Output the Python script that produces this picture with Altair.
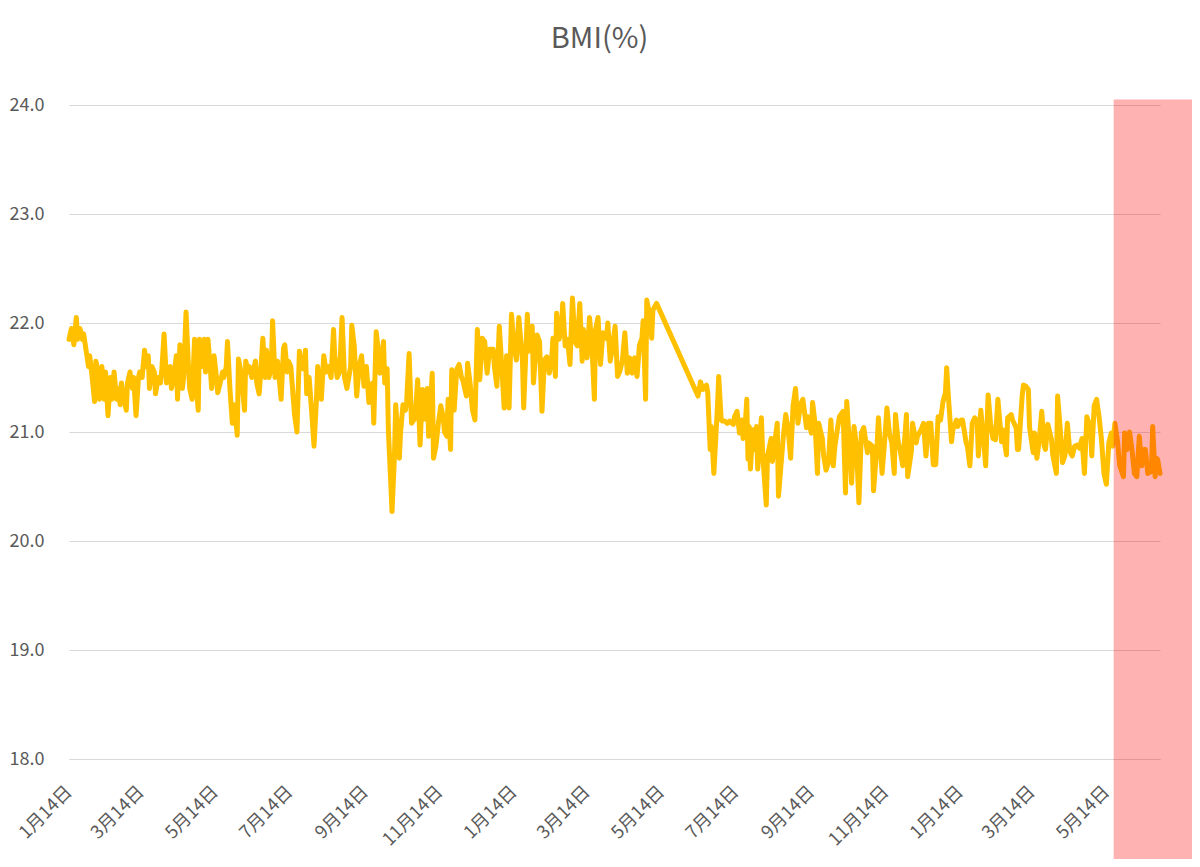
import altair as alt
import pandas as pd

START_DATE = "2019-01-14"
END_DATE = "2021-06-27"

# days since 2019-01-14
DAY_OFFSETS = [
    0, 2, 4, 6, 7, 9, 11, 12, 14, 16, 17, 19, 21, 22, 24, 25, 27, 29, 30, 32, 34, 35, 37, 39, 40, 42, 43, 45, 47, 48,
    50, 52, 53, 55, 57, 58, 60, 62, 63, 65, 66, 68, 70, 71, 73, 75, 76, 78, 80, 81, 83, 84, 86, 88, 89, 91, 93, 94, 96, 98,
    99, 101, 103, 104, 106,
    107, 109, 111, 112, 114, 116, 117, 119, 121, 122, 124, 126, 127, 129, 130, 132, 134, 135, 137, 138, 139, 141, 144, 145,
    147, 148, 150, 153, 154, 156, 157, 159, 161, 162, 164, 166, 167, 169, 171, 172, 174, 176, 177, 179, 180, 182, 185, 187,
    189, 190, 192, 194, 195, 197, 199, 201, 203, 204, 207, 209, 211, 213, 215, 217,
    218, 220, 222, 224, 226, 228, 231, 232, 234, 236, 238, 240, 242, 244, 246, 249, 250, 252, 253, 255, 258, 259, 261, 262,
    265, 267, 268, 271, 272, 274, 276, 277, 279, 281, 284, 286, 288, 290, 292, 294, 295, 298, 299, 301, 303, 305, 307, 308,
    310, 311, 313, 314, 316, 318, 320, 322, 323, 326, 327,
    329, 331, 333, 335, 337, 339, 341, 343, 345, 348, 349, 351, 353, 355, 357, 359, 361, 363, 365, 367, 369, 372, 373, 376,
    377, 380, 381, 384, 386, 388, 390, 392, 394, 396, 397, 399, 400, 402, 404, 405, 407, 409, 411, 413, 415, 417, 419, 421,
    422, 425, 427, 429, 431, 432, 434, 436, 438, 441, 442, 444, 446, 448, 450, 452, 454, 456, 458, 460, 462, 464, 466, 468,
    470, 471, 473, 474, 476, 478, 479, 482,
    516, 518, 520, 523, 524, 526, 527, 529, 532, 533, 535, 536, 538, 540, 542, 545, 546, 548, 550, 552, 553, 555, 556, 557,
    558, 559, 561, 563, 564, 565, 568, 569, 572, 573, 576, 577, 581, 582, 586, 588, 590, 592, 594, 596, 598, 600, 602, 605,
    606, 609, 610, 612, 614, 615, 618, 619, 621, 623, 625, 627, 628, 630, 632, 635, 637, 638, 640, 642, 644, 646, 648, 650,
    652, 655, 656, 659, 660, 663, 664, 667, 669, 671, 673, 675, 677, 678, 680, 682, 684, 687, 688, 691, 692, 695, 696, 699,
    701, 703, 705, 707, 709, 711, 713, 715, 717, 719, 720, 721, 724, 725, 728, 729, 732, 733, 736, 737, 739, 741, 743, 745,
    746, 748, 750, 752, 754, 756, 758, 760, 762, 765, 766, 769, 770, 773, 774, 777, 778, 779, 782, 783, 785, 787, 788, 791,
    792, 794, 796, 798, 800, 801, 803, 806, 807, 810, 811, 813, 815, 817, 819, 821, 823, 825, 827, 829, 831, 833, 835, 838,
    839, 841, 843, 845, 847, 849, 851, 853, 855, 856, 858, 860, 862, 865, 866, 868, 870, 872, 874, 876, 878, 880, 882, 883,
    885, 888, 889, 891, 892, 893, 895,
]

BMI = [
    21.85, 21.95, 21.8, 22.05, 21.85, 21.95, 21.85, 21.9, 21.75, 21.6, 21.7, 21.5, 21.28, 21.65, 21.55, 21.3, 21.6, 21.3,
    21.55, 21.15, 21.5, 21.3, 21.55, 21.3, 21.4, 21.25, 21.45, 21.3, 21.2, 21.45, 21.55, 21.4, 21.5, 21.15, 21.5, 21.55,
    21.5, 21.75, 21.6, 21.7, 21.4, 21.6, 21.55, 21.35, 21.5, 21.45, 21.55, 21.9, 21.45, 21.55, 21.6, 21.4, 21.5, 21.7,
    21.3, 21.8, 21.4, 21.5, 22.1, 21.6, 21.4, 21.3, 21.85, 21.5, 21.2,
    21.85, 21.6, 21.85, 21.55, 21.85, 21.57, 21.4, 21.7, 21.5, 21.36, 21.45, 21.55, 21.5, 21.6, 21.83, 21.4, 21.08, 21.25,
    21.1, 20.97, 21.67, 21.55, 21.2, 21.65, 21.55, 21.6, 21.5, 21.65, 21.45, 21.35, 21.5, 21.86, 21.5, 21.75, 21.5, 21.6,
    22.02, 21.5, 21.65, 21.55, 21.3, 21.77, 21.8, 21.55, 21.65, 21.6, 21.16, 21.0, 21.74, 21.62, 21.58, 21.75, 21.35, 21.5,
    21.2, 20.87, 21.3, 21.6, 21.3, 21.7, 21.55, 21.6, 21.5, 21.94,
    21.7, 21.5, 21.55, 22.05, 21.5, 21.4, 21.6, 21.98, 21.79, 21.33, 21.6, 21.7, 21.42, 21.6, 21.27, 21.45, 21.08, 21.92,
    21.82, 21.54, 21.83, 21.45, 21.58, 21.02, 20.27, 20.78, 21.25, 20.76, 21.0, 21.25, 21.2, 21.28, 21.72, 21.08, 21.13,
    21.48, 20.88, 21.39, 21.12, 21.4, 20.96, 21.54, 20.76, 20.87, 21.08, 21.24, 21.14, 21.0, 20.96, 21.3, 20.84, 21.57,
    21.2, 21.57, 21.62, 21.5, 21.48, 21.33, 21.63,
    21.45, 21.2, 21.11, 21.94, 21.48, 21.86, 21.83, 21.54, 21.76, 21.76, 21.6, 21.42, 21.97, 21.6, 21.22, 21.7, 21.22,
    22.08, 21.79, 21.66, 22.05, 21.65, 21.22, 22.08, 21.74, 21.97, 21.45, 21.89, 21.83, 21.19, 21.66, 21.69, 21.54, 21.68,
    21.86, 21.51, 22.09, 21.85, 21.95, 22.18, 21.79, 21.85, 21.62, 22.23, 21.83, 21.79, 22.18, 21.65, 21.94, 21.68, 22.05,
    21.79, 21.3, 21.94, 22.05, 21.62, 21.91, 21.86, 22.0, 21.65, 21.79, 21.97, 21.51, 21.56, 21.66, 21.91, 21.54, 21.68,
    21.54, 21.68, 21.51, 21.8, 21.86, 22.02, 21.3, 22.21, 22.09, 21.86, 22.12, 22.18,
    21.33, 21.46, 21.39, 21.43, 21.36, 20.84, 21.05, 20.62, 21.24, 21.51, 21.11, 21.1, 21.1, 21.08, 21.1, 21.07, 21.14,
    21.19, 20.99, 21.11, 20.94, 21.11, 21.3, 20.75, 21.05, 20.66, 21.02, 20.84, 21.05, 20.66, 21.13, 20.81, 20.33, 20.78,
    20.94, 20.73, 21.08, 20.41, 20.96, 21.16, 21.02, 20.76, 21.24, 21.4, 21.08, 21.25, 21.3, 21.04, 21.14, 20.99, 21.27,
    21.08, 20.62, 21.08, 20.94, 20.79, 20.65, 20.72, 21.11, 20.69, 20.84, 21.0, 21.14, 21.19, 20.44, 21.28, 20.93, 20.53,
    21.05, 20.87, 20.35, 20.99, 21.04, 20.81, 20.9, 20.87, 20.46, 20.9, 21.13, 20.62, 20.9, 21.22, 20.99, 20.9, 20.62,
    21.16, 20.93, 20.82, 20.69, 21.16, 20.59, 20.82, 21.08, 20.9, 20.96, 21.02, 21.08, 20.78, 21.08, 21.08, 20.7, 20.7,
    21.14, 21.11, 21.28, 21.36, 21.59, 21.39, 20.91, 21.02, 21.11, 21.05, 21.11, 21.11, 20.9, 20.87, 20.69, 21.08, 21.13,
    21.11, 20.78, 21.2, 20.96, 20.69, 21.34, 21.08, 20.94, 20.93, 21.3, 20.91, 21.02, 20.79, 21.13, 21.16, 21.11, 21.04,
    20.84, 20.84, 21.34, 21.43, 21.42, 21.39, 21.04, 20.81, 20.99, 20.76, 20.93, 21.19, 20.87, 20.84, 21.07, 20.93, 20.79,
    20.62, 21.33, 21.05, 20.72, 20.78, 21.08, 20.82, 20.78, 20.87, 20.88, 20.85, 20.94, 20.62, 21.14, 21.04, 20.78, 21.24,
    21.3, 21.14, 20.93, 20.62, 20.52, 20.9, 20.99, 20.87, 21.08, 20.93, 20.69, 20.59, 20.99, 20.84, 21.0, 20.84, 20.62,
    20.59, 20.96, 20.69, 20.84, 20.84, 20.62, 20.64, 21.05, 20.59, 20.76, 20.75, 20.62,
]

# highlighted period (red box)
HIGHLIGHT_START = "2021-05-20"
HIGHLIGHT_END = "2021-07-28"
HIGHLIGHT_LOW = 16.9
HIGHLIGHT_HIGH = 24.05

# tick dates: the 14th of every other month
TICK_DATES = [
    (2019, 1), (2019, 3), (2019, 5), (2019, 7), (2019, 9), (2019, 11),
    (2020, 1), (2020, 3), (2020, 5), (2020, 7), (2020, 9), (2020, 11),
    (2021, 1), (2021, 3), (2021, 5),
]
Y_TICKS = [18, 19, 20, 21, 22, 23, 24]

assert len(DAY_OFFSETS) == len(BMI)

df = pd.DataFrame({
    "date": pd.Timestamp(START_DATE) + pd.to_timedelta(DAY_OFFSETS, unit="D"),
    "bmi": BMI,
})
hl = pd.DataFrame({
    "start": [pd.Timestamp(HIGHLIGHT_START)],
    "end": [pd.Timestamp(HIGHLIGHT_END)],
    "low": [HIGHLIGHT_LOW],
    "high": [HIGHLIGHT_HIGH],
})

FONT = "Noto Sans CJK JP"
GRAY = "#595959"

s0 = pd.Timestamp(START_DATE)
s1 = pd.Timestamp(END_DATE)
x_scale = alt.Scale(
    domain=[alt.DateTime(year=s0.year, month=s0.month, date=s0.day),
            alt.DateTime(year=s1.year, month=s1.month, date=s1.day)],
    nice=False,
)
y_scale = alt.Scale(domain=[18, 24], nice=False, zero=False)

x_axis = alt.Axis(
    values=[alt.DateTime(year=y, month=m, date=14) for y, m in TICK_DATES],
    format="%-m月%-d日",
    labelAngle=-45,
    labelAlign="right",
    labelBaseline="middle",
    labelPadding=30,
    labelFontSize=18,
    labelColor=GRAY,
    labelFont=FONT,
    ticks=False,
    grid=False,
    domainColor="#D9D9D9",
    labelOverlap=False,
    title=None,
)
y_axis = alt.Axis(
    values=Y_TICKS,
    format=".1f",
    labelFontSize=18,
    labelColor=GRAY,
    labelFont=FONT,
    labelPadding=25,
    ticks=False,
    domain=False,
    gridColor="#D9D9D9",
    gridWidth=1.2,
    title=None,
)

line = alt.Chart(df).mark_line(
    color="#FFC000", strokeWidth=5, strokeJoin="round", strokeCap="round"
).encode(
    x=alt.X("date:T", scale=x_scale, axis=x_axis),
    y=alt.Y("bmi:Q", scale=y_scale, axis=y_axis),
)

box = alt.Chart(hl).mark_rect(color="#FF0000", opacity=0.3).encode(
    x="start:T", x2="end:T", y="low:Q", y2="high:Q",
)

chart = alt.layer(line, box).properties(
    width=1091,
    height=654,
    background="white",
    autosize=alt.AutoSizeParams(type="none"),
    padding={"left": 61, "top": 97, "right": 32, "bottom": 100},
    title=alt.TitleParams(
        "BMI(%)", fontSize=29, font=FONT, color=GRAY, fontWeight="normal",
        anchor="middle", dx=-15, offset=42,
    ),
).configure_view(strokeWidth=0, stroke="transparent")

chart.save("out.html", embed_options={"renderer": "svg", "actions": False})
